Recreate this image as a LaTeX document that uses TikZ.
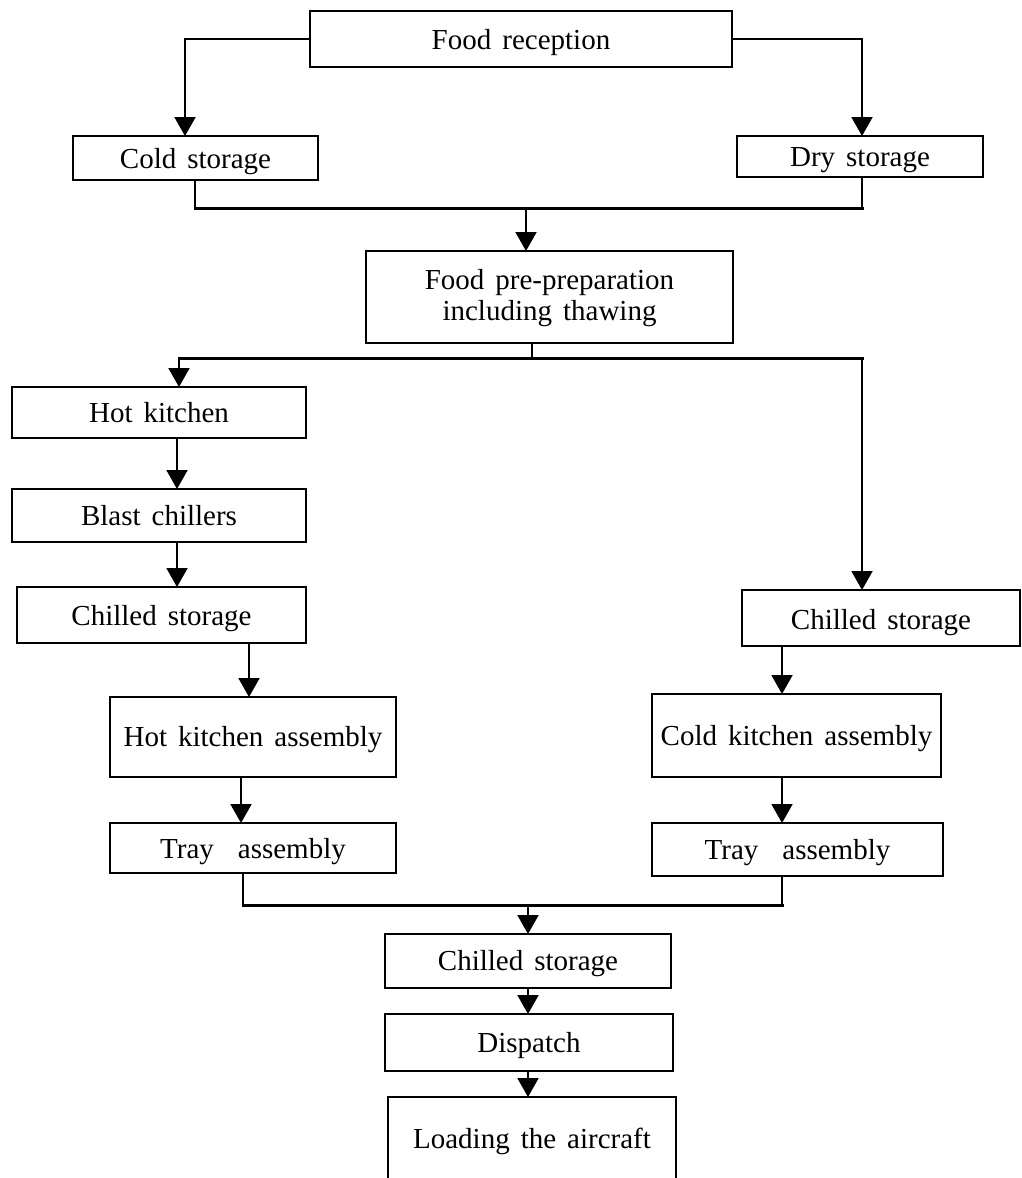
\documentclass[tikz,border=0pt]{standalone}
\usepackage{fontspec}
\setmainfont{Liberation Serif}
\usetikzlibrary{arrows.meta}
\begin{document}
\begin{tikzpicture}[x=1pt,y=-1pt,
  box/.style={draw, line width=2pt, inner sep=0pt, outer sep=0pt, anchor=north west,
    align=center, text height=20pt, text depth=0pt,
    font={\fontsize{29}{31}\selectfont\spaceskip=11pt plus 2pt minus 1pt}},
  conn/.style={line width=2pt},
  merge/.style={line width=3pt, line cap=rect},
  arr/.style={line width=2pt, -{Triangle[width=21pt,length=19pt]}}]
\clip (0,0) rectangle (1021,1178);
\fill[white] (0,0) rectangle (1021,1178);
% nodes
\node[box, minimum width=422pt, minimum height=56pt] (rec) at (310,11) {Food reception};
\node[box, minimum width=245pt, minimum height=44pt] (cold) at (73,136) {Cold storage};
\node[box, minimum width=246pt, minimum height=41pt] (dry) at (737,136) {Dry storage};
\node[box, minimum width=367pt, minimum height=92pt, text height=46pt] (prep) at (366,251) {Food pre-preparation\\including thawing};
\node[box, minimum width=294pt, minimum height=51pt] (hot) at (12,387) {Hot kitchen};
\node[box, minimum width=294pt, minimum height=53pt] (blast) at (12,489) {Blast chillers};
\node[box, minimum width=289pt, minimum height=56pt] (chL) at (17,587) {Chilled storage};
\node[box, minimum width=286pt, minimum height=80pt, text height=18pt] (hka) at (110,697) {Hot kitchen assembly};
\node[box, minimum width=286pt, minimum height=50pt] (trL) at (110,823) {Tray\hspace{24pt}assembly};
\node[box, minimum width=278pt, minimum height=56pt, text height=22pt] (chR) at (742,590) {Chilled storage};
\node[box, minimum width=289pt, minimum height=83pt, text height=19pt] (cka) at (652,694) {Cold kitchen assembly};
\node[box, minimum width=291pt, minimum height=53pt] (trR) at (652,823) {Tray\hspace{24pt}assembly};
\node[box, minimum width=286pt, minimum height=54pt, text height=18pt] (chB) at (385,934) {Chilled storage};
\node[box, minimum width=288pt, minimum height=57pt] (disp) at (385,1014) {Dispatch};
\node[box, minimum width=288pt, minimum height=95pt, text height=7pt] (load) at (388,1097) {Loading the aircraft};
% guide coordinates
\coordinate (xa) at (185,0);
\coordinate (xb) at (862,0);
\coordinate (xc) at (195,0);
\coordinate (xm1) at (526,0);
\coordinate (xp) at (532,0);
\coordinate (xh) at (179,0);
\coordinate (xk) at (177,0);
\coordinate (xl) at (249,0);
\coordinate (xl2) at (241,0);
\coordinate (xl3) at (243,0);
\coordinate (xr) at (782,0);
\coordinate (xm2) at (528,0);
\coordinate (y1) at (0,208);
\coordinate (y2) at (0,358);
\coordinate (y3) at (0,905);
% connectors
\draw[arr] (rec.west) -| (xa |- cold.north);
\draw[arr] (rec.east) -| (xb |- dry.north);
\draw[conn] (xc |- cold.south) -- (xc |- y1);
\draw[conn] (xb |- dry.south) -- (xb |- y1);
\draw[merge] (xc |- y1) -- (xb |- y1);
\draw[arr] (xm1 |- y1) -- (xm1 |- prep.north);
\draw[conn] (xp |- prep.south) -- (xp |- y2);
\draw[merge] (xh |- y2) -- (xb |- y2);
\draw[arr] (xh |- y2) -- (xh |- hot.north);
\draw[arr] (xb |- y2) -- (xb |- chR.north);
\draw[arr] (xk |- hot.south) -- (xk |- blast.north);
\draw[arr] (xk |- blast.south) -- (xk |- chL.north);
\draw[arr] (xl |- chL.south) -- (xl |- hka.north);
\draw[arr] (xl2 |- hka.south) -- (xl2 |- trL.north);
\draw[conn] (xl3 |- trL.south) -- (xl3 |- y3);
\draw[arr] (xr |- chR.south) -- (xr |- cka.north);
\draw[arr] (xr |- cka.south) -- (xr |- trR.north);
\draw[conn] (xr |- trR.south) -- (xr |- y3);
\draw[merge] (xl3 |- y3) -- (xr |- y3);
\draw[arr] (xm2 |- y3) -- (xm2 |- chB.north);
\draw[arr] (xm2 |- chB.south) -- (xm2 |- disp.north);
\draw[arr] (xm2 |- disp.south) -- (xm2 |- load.north);
\end{tikzpicture}
\end{document}
